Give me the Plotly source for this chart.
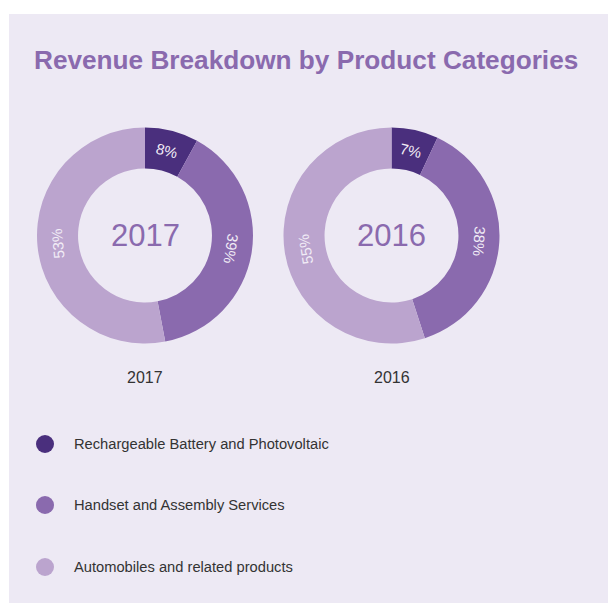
import math
import plotly.graph_objects as go

categories = ["Rechargeable Battery and Photovoltaic", "Handset and Assembly Services", "Automobiles and related products"]
years = ["2017", "2016"]
values_2017 = [8, 39, 53]
values_2016 = [7, 38, 55]
colors = ["#4A2F7D", "#8A6AAE", "#BBA4CE"]

# page has an 8px body margin: figure is placed at (8, 8)
OFF = 8
W, H = 616 - OFF, 605 - OFF
FONT = "Liberation Sans, Arial, Helvetica, sans-serif"
fig = go.Figure()


def px(x):
    return (x - OFF) / W


def py(y):
    return 1 - (y - OFF) / H


centers = [(145, 235.5), (391.5, 235.5)]
R = 108
HOLE = 0.62
for yr, vals, (cx, cy) in zip(years, [values_2017, values_2016], centers):
    fig.add_trace(go.Pie(
        labels=categories, values=vals, hole=HOLE, sort=False, direction="clockwise", rotation=0,
        marker=dict(colors=colors, line=dict(width=0)),
        textinfo="none",
        domain=dict(x=[px(cx - R), px(cx + R)], y=[py(cy + R), py(cy - R)]),
        showlegend=False, hoverinfo="label+percent",
    ))
    # white hole fill
    fig.add_shape(type="circle", xref="paper", yref="paper", layer="below",
                  x0=px(cx - R * HOLE), x1=px(cx + R * HOLE), y0=py(cy + R * HOLE), y1=py(cy - R * HOLE),
                  fillcolor="white", line=dict(width=0))
    # slice labels, tangential, placed at mid-ring from the values
    total = sum(vals)
    cum = 0
    rmid = R * (1 + HOLE) / 2
    for v in vals:
        mid = (cum + v / 2) / total * 360
        cum += v
        th = math.radians(mid)
        lx = cx + rmid * math.sin(th)
        ly = cy - rmid * math.cos(th)
        ang = mid if mid <= 180 else mid - 360
        fig.add_annotation(text=f"{v}%", x=px(lx), y=py(ly), xref="paper", yref="paper",
                           xanchor="center", yanchor="middle", showarrow=False, textangle=ang,
                           font=dict(family=FONT, size=15, color="#F1ECF6"))
    fig.add_annotation(text=yr, x=px(cx), y=py(cy), xref="paper", yref="paper", showarrow=False,
                       xanchor="center", yanchor="middle",
                       font=dict(family=FONT, size=31, color="#8A6AAE"))
    fig.add_annotation(text=yr, x=px(cx), y=py(377), xref="paper", yref="paper", showarrow=False,
                       xanchor="center", yanchor="middle",
                       font=dict(family=FONT, size=16, color="#333333"))

# panel background
fig.add_shape(type="rect", xref="paper", yref="paper", layer="below",
              x0=px(9), x1=1.01, y0=py(603), y1=py(14), fillcolor="#EDE9F4", line=dict(width=0))

# title
fig.add_annotation(text="<b>Revenue Breakdown by Product Categories</b>", x=px(32), y=py(60),
                   xref="paper", yref="paper", xanchor="left", yanchor="middle", showarrow=False,
                   font=dict(family=FONT, size=26.2, color="#8A6AAE"))

# legend
leg_y = [444, 505, 567]
for cat, col, ly in zip(categories, colors, leg_y):
    fig.add_shape(type="circle", xref="paper", yref="paper",
                  x0=px(36), x1=px(54), y0=py(ly + 9), y1=py(ly - 9), fillcolor=col, line=dict(width=0))
    fig.add_annotation(text=cat, x=px(72), y=py(ly), xref="paper", yref="paper", xanchor="left",
                       yanchor="middle", showarrow=False,
                       font=dict(family=FONT, size=14.7, color="#333333"))

fig.update_layout(width=W, height=H, margin=dict(l=0, r=0, t=0, b=0),
                  paper_bgcolor="white", plot_bgcolor="white")
fig.write_html("out.html")
